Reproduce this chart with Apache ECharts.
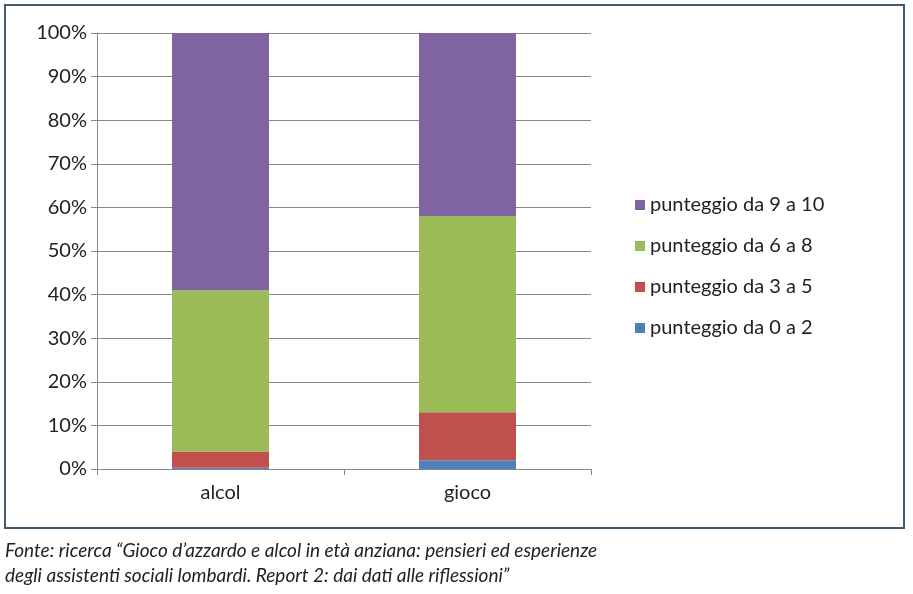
<!DOCTYPE html>
<html><head><meta charset="utf-8">
<script src="https://cdn.jsdelivr.net/npm/echarts@6/dist/echarts.min.js"></script>
<style>html,body{margin:0;padding:0;background:#fff}#c{width:913px;height:594px}</style>
</head><body><div id="c"></div>
<script>
const categories = ['alcol', 'gioco'];
const s0_2 = [0.3, 2];
const s3_5 = [3.7, 11];
const s6_8 = [37, 45];
const s9_10 = [59, 42];
const names = ['punteggio da 0 a 2','punteggio da 3 a 5','punteggio da 6 a 8','punteggio da 9 a 10'];
const colors = ['#4f81bd','#c0504d','#9bbb59','#8064a2'];
const data = [s0_2, s3_5, s6_8, s9_10];
const font = 'Lato, "DejaVu Sans", sans-serif';
const chart = echarts.init(document.getElementById('c'));
chart.setOption({
  animation:false,
  graphic:[
    {type:'rect',shape:{x:5,y:5,width:899,height:523},style:{fill:'none',stroke:'#3f5a75',lineWidth:2}},
    {type:'text',left:5,top:538,style:{text:'Fonte: ricerca “Gioco d’azzardo e alcol in età anziana: pensieri ed esperienze\ndegli assistenti sociali lombardi. Report 2: dai dati alle riflessioni”',font:'italic 19px '+font,fill:'#222',lineHeight:25}}
  ],
  grid:{left:97,top:33,width:494,height:436},
  legend:{orient:'vertical',left:630,top:190,itemGap:21,itemWidth:10,itemHeight:10,icon:'rect',
    data:names.slice().reverse(),textStyle:{fontSize:20,fontFamily:font,color:'#222'}},
  xAxis:{type:'category',data:categories,axisTick:{show:true,alignWithLabel:false,length:6,lineStyle:{color:'#888'}},
    axisLine:{lineStyle:{color:'#888'}},axisLabel:{fontSize:20,fontFamily:font,color:'#222',margin:14}},
  yAxis:{type:'value',min:0,max:100,interval:10,axisLine:{show:true,lineStyle:{color:'#888'}},
    axisTick:{show:true,length:6,lineStyle:{color:'#888'}},
    splitLine:{lineStyle:{color:'#888'}},
    axisLabel:{formatter:'{value}%',fontSize:20,fontFamily:font,color:'#222',margin:10}},
  series:data.map((d,i)=>({name:names[i],type:'bar',stack:'a',data:d,barWidth:97,itemStyle:{color:colors[i]}}))
});
</script></body></html>
